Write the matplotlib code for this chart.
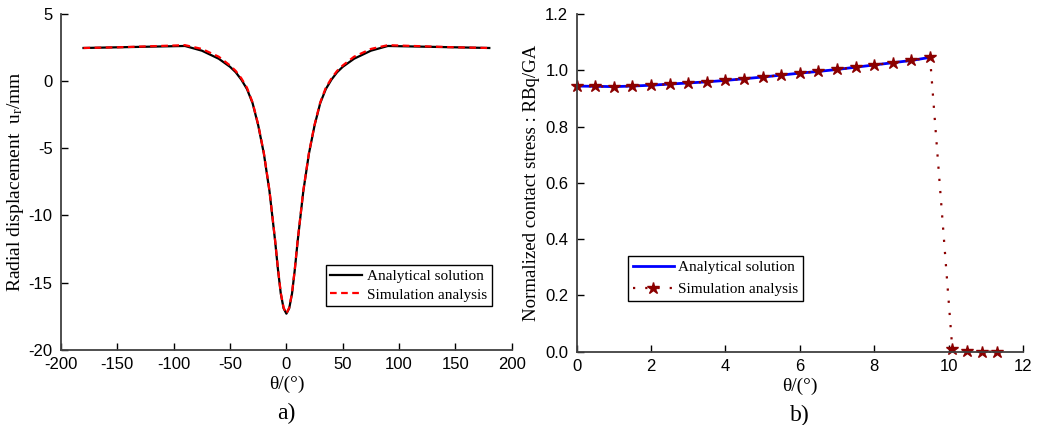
import matplotlib
matplotlib.use("Agg")
import matplotlib.pyplot as plt

# ---- data: panel a ----
theta_a = [-180, -150, -120, -90, -75, -60, -50, -45, -40, -35, -30, -25, -20, -15,
           -10, -7.5, -5, -2.5, 0, 2.5, 5, 7.5, 10, 15, 20, 25, 30, 35, 40, 45, 50,
           60, 75, 90, 120, 150, 180]
ur_analytical = [2.45, 2.5, 2.55, 2.6, 2.25, 1.65, 1.05, 0.65, 0.1, -0.6, -1.65, -3.3,
                 -5.4, -8.2, -11.9, -14.0, -15.8, -16.9, -17.3, -16.9, -15.8, -14.0,
                 -11.9, -8.2, -5.4, -3.3, -1.65, -0.6, 0.1, 0.65, 1.05, 1.65, 2.25,
                 2.6, 2.55, 2.5, 2.45]
ur_simulation = [2.45, 2.5, 2.58, 2.66, 2.38, 1.8, 1.15, 0.75, 0.2, -0.5, -1.6, -3.25,
                 -5.35, -8.15, -11.85, -13.95, -15.75, -16.85, -17.3, -16.85, -15.75,
                 -13.95, -11.85, -8.15, -5.35, -3.25, -1.6, -0.5, 0.2, 0.75, 1.15, 1.8,
                 2.38, 2.66, 2.58, 2.5, 2.45]

# ---- data: panel b ----
theta_b_an = [0, 0.5, 1, 1.5, 2, 2.5, 3, 3.5, 4, 4.5, 5, 5.5, 6, 6.5, 7, 7.5, 8, 8.5, 9, 9.5]
stress_an = [0.944, 0.943, 0.942, 0.944, 0.947, 0.951, 0.955, 0.959, 0.964, 0.970,
             0.976, 0.983, 0.990, 0.996, 1.003, 1.011, 1.019, 1.027, 1.035, 1.046]
theta_b_sim = theta_b_an + [10.1, 10.5, 10.9, 11.3]
stress_sim = stress_an + [0.008, 0.003, 0.0, 0.0]

xticks_a = [-200, -150, -100, -50, 0, 50, 100, 150, 200]
yticks_a = [-20, -15, -10, -5, 0, 5]
xticks_b = [0, 2, 4, 6, 8, 10, 12]
yticks_b = [0.0, 0.2, 0.4, 0.6, 0.8, 1.0, 1.2]
yticklabels_b = ["0.0", "0.2", "0.4", "0.6", "0.8", "1.0", "1.2"]

serif = "Liberation Serif"
sans = "Liberation Sans"
plt.rcParams["mathtext.fontset"] = "custom"
plt.rcParams["mathtext.rm"] = serif
plt.rcParams["mathtext.it"] = serif + ":italic"
plt.rcParams["font.family"] = sans
plt.rcParams["axes.unicode_minus"] = False

fig = plt.figure(figsize=(10.51, 4.25), dpi=100)
ax1 = fig.add_axes([0.058, 0.1765, 0.429, 0.7913])
ax2 = fig.add_axes([0.5487, 0.1725, 0.4247, 0.7945])

spine_col = "#404040"
for ax in (ax1, ax2):
    for s in ("top", "right"):
        ax.spines[s].set_visible(False)
    for s in ("left", "bottom"):
        ax.spines[s].set_color(spine_col)
        ax.spines[s].set_linewidth(1.3)
    ax.tick_params(direction="in", length=5, width=1, color="black", labelsize=12)
    ax.tick_params(axis="y", pad=6)
    ax.tick_params(axis="x", pad=5)

# panel a
ax1.plot(theta_a, ur_analytical, color="black", lw=1.6, label="Analytical solution")
ax1.plot(theta_a, ur_simulation, color="red", lw=1.6, ls=(0, (3, 2)), label="Simulation analysis")
ax1.set_xlim(-200, 200)
ax1.set_ylim(-20, 5)
ax1.set_xticks(xticks_a)
ax1.set_yticks(yticks_a)
ax1.set_xlabel("θ/(°)", fontfamily=serif, fontsize=14, labelpad=3)
ax1.set_ylabel("Radial displacement  u$_\\mathregular{r}$/mm", fontfamily=serif,
               fontsize=14, labelpad=2)
leg1 = ax1.legend(loc="lower right", bbox_to_anchor=(0.955, 0.13), prop={"family": serif, "size": 11},
                  frameon=True, fancybox=False, edgecolor="black", framealpha=1,
                  handlelength=2.1, borderpad=0.3, labelspacing=0.3, handletextpad=0.3,
                  borderaxespad=0)
leg1.get_frame().set_linewidth(1.0)
ax1.text(0.5, -0.158, "a)", transform=ax1.transAxes, ha="center", va="top",
         fontfamily=serif, fontsize=17)

# panel b
ax2.plot(theta_b_an, stress_an, color="blue", lw=2.0, label="Analytical solution")
ax2.plot(theta_b_sim, stress_sim, color="#8B0000", lw=1.6, ls=(0, (1, 4.5)),
         marker="*", markersize=9, markerfacecolor="#8B0000", markeredgecolor="#8B0000",
         label="Simulation analysis", clip_on=False)
ax2.set_xlim(0, 12)
ax2.set_ylim(0, 1.2)
ax2.set_xticks(xticks_b)
ax2.set_yticks(yticks_b)
ax2.set_yticklabels(yticklabels_b)
ax2.set_xlabel("θ/(°)", fontfamily=serif, fontsize=14, labelpad=3)
ax2.set_ylabel("Normalized contact stress : RBq/GA", fontfamily=serif, fontsize=13.6, labelpad=4)
leg2 = ax2.legend(loc="lower left", bbox_to_anchor=(0.115, 0.15), prop={"family": serif, "size": 11},
                  frameon=True, fancybox=False, edgecolor="black", framealpha=1,
                  handlelength=2.7, borderpad=0.3, labelspacing=0.57, handletextpad=0.3,
                  borderaxespad=0)
leg2.get_frame().set_linewidth(1.0)
ax2.text(0.5, -0.158, "b)", transform=ax2.transAxes, ha="center", va="top",
         fontfamily=serif, fontsize=17)

fig.savefig("out.png", dpi=100)
